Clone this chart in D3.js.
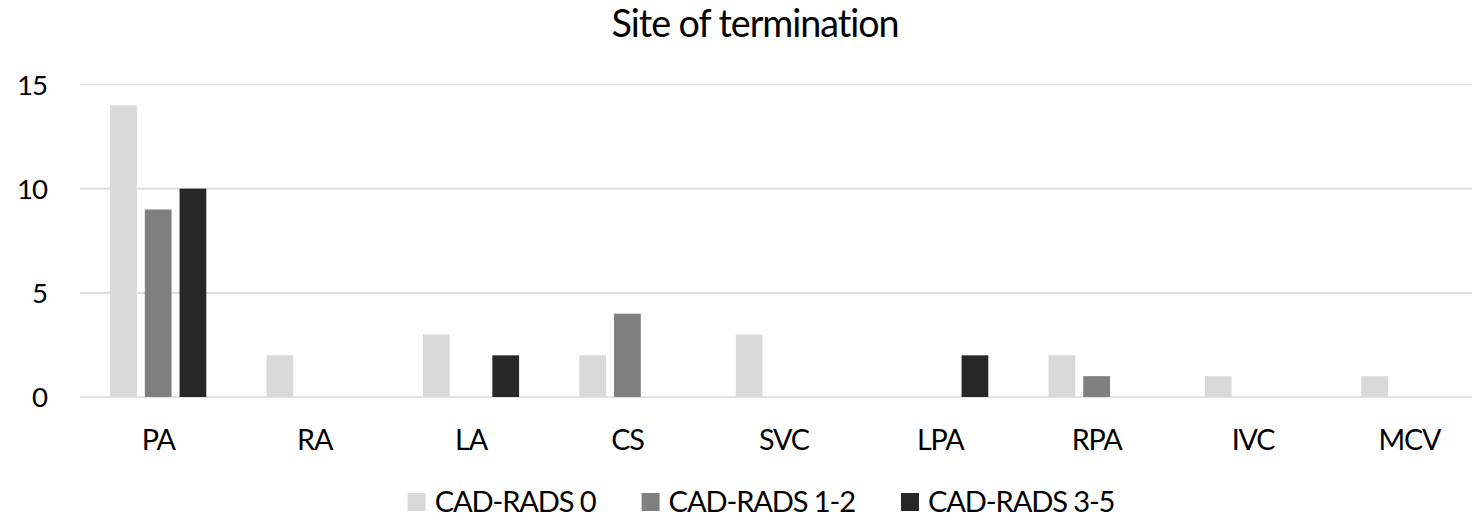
<!DOCTYPE html>
<html>
<head>
<meta charset="utf-8">
<script src="https://cdn.jsdelivr.net/npm/d3@7"></script>
<style>
  html, body { margin: 0; padding: 0; background: #fff; }
  svg { display: block; }
  text { font-variant-ligatures: none; font-feature-settings: "liga" 0; }
</style>
</head>
<body>
<svg id="chart" width="1472" height="521"></svg>
<script>
const categories = ["PA", "RA", "LA", "CS", "SVC", "LPA", "RPA", "IVC", "MCV"];
const seriesNames = ["CAD-RADS 0", "CAD-RADS 1-2", "CAD-RADS 3-5"];
const cadrads0  = [14, 2, 3, 2, 3, 0, 2, 1, 1];
const cadrads12 = [9, 0, 0, 4, 0, 0, 1, 0, 0];
const cadrads35 = [10, 0, 2, 0, 0, 2, 0, 0, 0];
const yTicks = [0, 5, 10, 15];
const titleText = "Site of termination";

const seriesValues = [cadrads0, cadrads12, cadrads35];
const colors = ["#d9d9d9", "#7f7f7f", "#272727"];
const FONT = "Lato, 'Open Sans', sans-serif";
const GROW = 1.07;

const svg = d3.select("#chart");

// font fitting helper: returns {size, ls} so text is a bit larger but keeps target width
function fit(str, target) {
  const t = svg.append("text").attr("font-family", FONT).attr("font-size", 100).text(str);
  const w = t.node().getComputedTextLength();
  t.remove();
  const size = 100 * target / w * GROW;
  const wAt = w * size / 100;
  const ls = (target - wAt) / str.length;
  return {size, ls};
}

const x = d3.scaleBand().domain(categories).range([80, 1487.6]).paddingInner(0).paddingOuter(0);
const xInner = d3.scaleBand().domain(seriesNames).range([0, x.bandwidth()]).paddingInner(0.23).paddingOuter(0.867);
const y = d3.scaleLinear().domain([0, 15]).range([397, 84.5]);

// gridlines
svg.append("g").selectAll("line").data(yTicks).join("line")
  .attr("x1", 80).attr("x2", 1472)
  .attr("y1", d => y(d)).attr("y2", d => y(d))
  .attr("stroke", "#d9d9d9").attr("stroke-width", 1.6);

// bars
const data = [];
categories.forEach((c, i) => seriesNames.forEach((s, j) => data.push({c, s, j, v: seriesValues[j][i]})));
svg.append("g").selectAll("rect").data(data.filter(d => d.v > 0)).join("rect")
  .attr("x", d => x(d.c) + xInner(d.s))
  .attr("width", xInner.bandwidth())
  .attr("y", d => y(d.v))
  .attr("height", d => y(0) - y(d.v))
  .attr("fill", d => colors[d.j]);

// y axis labels
const yAxis = d3.axisLeft(y).tickValues(yTicks).tickSize(0).tickPadding(0);
const tf = fit("15", 30);
const gy = svg.append("g").attr("transform", "translate(47,0)").call(yAxis);
gy.select(".domain").remove();
gy.selectAll("text").attr("font-family", FONT).attr("font-size", tf.size)
  .attr("letter-spacing", tf.ls).attr("fill", "#000").attr("dy", "0.36em");

// x axis labels
const xAxis = d3.axisBottom(x).tickSize(0).tickPadding(0);
const xf = fit("PA", 33);
const gx = svg.append("g").call(xAxis);
gx.select(".domain").remove();
gx.selectAll("text").attr("font-family", FONT).attr("font-size", xf.size)
  .attr("letter-spacing", xf.ls).attr("fill", "#000")
  .attr("y", 450).attr("dy", 0);

// title
const ttf = fit(titleText, 287);
svg.append("text").attr("x", 755).attr("y", 37).attr("text-anchor", "middle")
  .attr("font-family", FONT).attr("font-size", ttf.size).attr("letter-spacing", ttf.ls)
  .attr("fill", "#000").text(titleText);

// legend
const lf = fit("CAD-RADS 0", 161);
const leg = svg.append("g");
let lx = 0;
seriesNames.forEach((s, j) => {
  const g = leg.append("g").attr("transform", `translate(${lx},0)`);
  g.append("rect").attr("x", 0).attr("y", 493).attr("width", 18).attr("height", 18).attr("fill", colors[j]);
  const t = g.append("text").attr("x", 27).attr("y", 511.5).attr("font-family", FONT)
    .attr("font-size", lf.size).attr("letter-spacing", lf.ls).attr("fill", "#000").text(s);
  const w = t.node().getComputedTextLength();
  lx += 27 + w + 46;
});
const totalW = lx - 46;
leg.attr("transform", `translate(${761 - totalW / 2},0)`);
</script>
</body>
</html>
